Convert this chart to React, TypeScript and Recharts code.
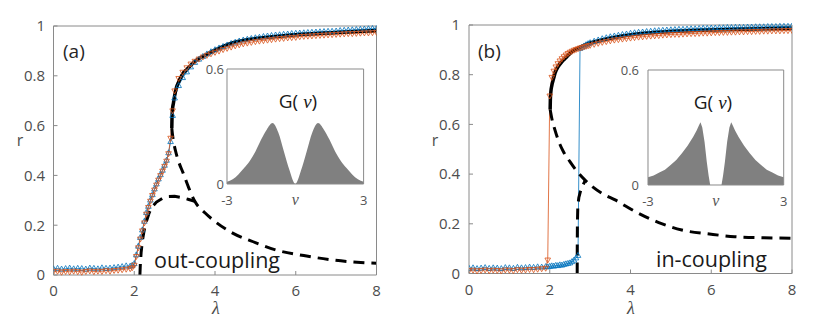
import React from 'react';
import { ComposedChart, Line, Area, XAxis, YAxis, CartesianGrid } from 'recharts';

// ---------- data ----------
const LAMBDA = [
  0, 0.1, 0.2, 0.3, 0.4, 0.5, 0.6, 0.7, 0.8, 0.9, 1, 1.1, 1.2, 1.3, 1.4, 1.5, 1.6, 1.7, 1.8, 1.9,
  1.95, 2, 2.05, 2.1, 2.15, 2.2, 2.25, 2.3, 2.35, 2.4, 2.45, 2.5, 2.55, 2.6, 2.65, 2.7, 2.75, 2.8, 2.85, 2.9, 2.95, 3,
  3.1, 3.2, 3.3, 3.4, 3.5, 3.6, 3.7, 3.8, 3.9, 4,
  4.1, 4.2, 4.3, 4.4, 4.5, 4.6, 4.7, 4.8, 4.9, 5,
  5.1, 5.2, 5.3, 5.4, 5.5, 5.6, 5.7, 5.8, 5.9, 6,
  6.1, 6.2, 6.3, 6.4, 6.5, 6.6, 6.7, 6.8, 6.9, 7,
  7.1, 7.2, 7.3, 7.4, 7.5, 7.6, 7.7, 7.8, 7.9, 8,
];

// panel (a) out-coupling: forward (blue) and backward (orange) sweeps
const R_FWD_A = [
  0.024, 0.026, 0.023, 0.025, 0.027, 0.024, 0.026, 0.025, 0.023, 0.027, 0.026, 0.024, 0.028, 0.026, 0.027, 0.029, 0.031, 0.033, 0.036, 0.035,
  0.038, 0.045, 0.08, 0.115, 0.15, 0.18, 0.215, 0.25, 0.275, 0.3, 0.322, 0.345, 0.365, 0.385, 0.402, 0.42, 0.44, 0.46, 0.49, 0.535, 0.64, 0.71,
  0.76, 0.792, 0.815, 0.835, 0.853, 0.866, 0.877, 0.887, 0.896, 0.904,
  0.911, 0.917, 0.923, 0.929, 0.934, 0.939, 0.943, 0.946, 0.949, 0.952,
  0.954, 0.957, 0.959, 0.961, 0.963, 0.964, 0.966, 0.967, 0.969, 0.97,
  0.971, 0.972, 0.973, 0.974, 0.975, 0.976, 0.977, 0.978, 0.978, 0.979,
  0.981, 0.982, 0.983, 0.984, 0.985, 0.986, 0.987, 0.988, 0.989, 0.99,
];
const R_BWD_A = [
  0.014, 0.016, 0.012, 0.015, 0.013, 0.016, 0.014, 0.012, 0.015, 0.017, 0.014, 0.016, 0.015, 0.018, 0.016, 0.019, 0.02, 0.022, 0.024, 0.026,
  0.03, 0.04, 0.075, 0.11, 0.145, 0.178, 0.21, 0.245, 0.272, 0.297, 0.32, 0.342, 0.362, 0.382, 0.4, 0.418, 0.437, 0.458, 0.488, 0.55, 0.66, 0.74,
  0.79, 0.815, 0.833, 0.848, 0.859, 0.868, 0.876, 0.883, 0.889, 0.895,
  0.9, 0.906, 0.911, 0.916, 0.921, 0.925, 0.929, 0.932, 0.935, 0.938,
  0.94, 0.942, 0.944, 0.946, 0.948, 0.95, 0.951, 0.953, 0.954, 0.955,
  0.958, 0.959, 0.96, 0.961, 0.962, 0.963, 0.964, 0.965, 0.966, 0.967,
  0.968, 0.969, 0.97, 0.97, 0.971, 0.972, 0.973, 0.973, 0.974, 0.975,
];

// panel (b) in-coupling
const R_FWD_B = [
  0.02, 0.022, 0.019, 0.021, 0.023, 0.02, 0.022, 0.021, 0.019, 0.023, 0.022, 0.02, 0.024, 0.022, 0.023, 0.025, 0.024, 0.026, 0.025, 0.027,
  0.026, 0.028, 0.03, 0.029, 0.032, 0.031, 0.034, 0.033, 0.036, 0.038, 0.04, 0.042, 0.047, 0.053, 0.062, 0.072, 0.905, 0.91, 0.915, 0.92, 0.924, 0.928,
  0.934, 0.939, 0.944, 0.948, 0.952, 0.955, 0.958, 0.961, 0.963, 0.966,
  0.968, 0.97, 0.971, 0.973, 0.974, 0.976, 0.977, 0.978, 0.979, 0.98,
  0.981, 0.982, 0.982, 0.983, 0.984, 0.984, 0.985, 0.986, 0.986, 0.987,
  0.987, 0.988, 0.988, 0.989, 0.989, 0.99, 0.99, 0.99, 0.991, 0.991,
  0.992, 0.992, 0.992, 0.993, 0.993, 0.993, 0.994, 0.994, 0.994, 0.995,
];
const R_BWD_B = [
  0.012, 0.014, 0.011, 0.013, 0.015, 0.012, 0.014, 0.013, 0.011, 0.015, 0.014, 0.012, 0.016, 0.014, 0.015, 0.017, 0.016, 0.018, 0.02, 0.022,
  0.055, 0.715, 0.79, 0.815, 0.832, 0.845, 0.856, 0.865, 0.873, 0.88, 0.886, 0.891, 0.895, 0.899, 0.902, 0.905, 0.908, 0.91, 0.913, 0.915, 0.917, 0.919,
  0.923, 0.927, 0.931, 0.934, 0.937, 0.94, 0.942, 0.944, 0.946, 0.948,
  0.95, 0.952, 0.953, 0.955, 0.956, 0.957, 0.958, 0.96, 0.961, 0.962,
  0.963, 0.963, 0.964, 0.965, 0.966, 0.966, 0.967, 0.968, 0.968, 0.969,
  0.97, 0.97, 0.971, 0.971, 0.972, 0.972, 0.973, 0.973, 0.974, 0.974,
  0.975, 0.975, 0.976, 0.976, 0.977, 0.977, 0.977, 0.978, 0.978, 0.979,
];

// theory curves, panel (a)
const LAM_STABLE_A = [2.93, 2.935, 2.95, 2.97, 3, 3.05, 3.1, 3.21, 3.3, 3.54, 3.75, 3.96, 4.53, 5, 5.5, 6, 7, 8];
const R_STABLE_A = [0.59, 0.63, 0.67, 0.69, 0.72, 0.756, 0.775, 0.81, 0.825, 0.863, 0.882, 0.9, 0.937, 0.95, 0.958, 0.965, 0.974, 0.982];
const LAM_UNSTABLE_A = [2.93, 2.95, 2.98, 3.02, 3.1, 3.21, 3.35, 3.5, 3.75, 3.96, 4.45, 5, 5.52, 6.2, 6.93, 8];
const R_UNSTABLE_A = [0.59, 0.56, 0.53, 0.5, 0.455, 0.41, 0.35, 0.296, 0.25, 0.22, 0.167, 0.13, 0.1, 0.078, 0.06, 0.047];
const LAM_LOWER_A = [2.14, 2.15, 2.17, 2.2, 2.24, 2.3, 2.37, 2.45, 2.55, 2.7, 2.85, 3, 3.2, 3.35, 3.5];
const R_LOWER_A = [0, 0.04, 0.09, 0.135, 0.175, 0.215, 0.25, 0.275, 0.293, 0.308, 0.315, 0.316, 0.31, 0.303, 0.296];

// theory curves, panel (b)
const LAM_STABLE_B = [2.01, 2.015, 2.03, 2.05, 2.1, 2.13, 2.2, 2.3, 2.4, 2.55, 2.75, 2.96, 3.3, 3.7, 4.36, 5, 6, 7, 8];
const R_STABLE_B = [0.66, 0.7, 0.735, 0.755, 0.787, 0.806, 0.83, 0.852, 0.868, 0.893, 0.91, 0.926, 0.94, 0.953, 0.967, 0.974, 0.98, 0.984, 0.987];
const LAM_UNSTABLE_B = [2.01, 2.05, 2.13, 2.25, 2.34, 2.5, 2.68, 2.88, 3.05, 3.3, 3.62, 4.12, 4.7, 5.27, 6, 6.58, 7.3, 8];
const R_UNSTABLE_B = [0.66, 0.625, 0.577, 0.52, 0.49, 0.45, 0.41, 0.375, 0.35, 0.322, 0.296, 0.249, 0.205, 0.175, 0.158, 0.148, 0.144, 0.142];
const LAM_LOWER_B = [2.68, 2.681, 2.685, 2.695, 2.72, 2.76, 2.82, 2.88];
const R_LOWER_B = [0, 0.1, 0.2, 0.27, 0.305, 0.33, 0.355, 0.375];

// insets: frequency distributions G(nu)
const NU_A = [-3, -2.75, -2.5, -2.25, -2, -1.75, -1.5, -1.25, -1, -0.75, -0.5, -0.25, 0, 0.25, 0.5, 0.75, 1, 1.25, 1.5, 1.75, 2, 2.25, 2.5, 2.75, 3];
const G_A = [0.012, 0.025, 0.05, 0.083, 0.12, 0.17, 0.232, 0.285, 0.318, 0.27, 0.17, 0.07, 0, 0.07, 0.17, 0.27, 0.318, 0.285, 0.232, 0.17, 0.12, 0.083, 0.05, 0.025, 0.012];
const NU_B = [-3, -2.75, -2.5, -2.25, -2, -1.75, -1.5, -1.25, -1, -0.85, -0.75, -0.68, -0.6, -0.5, -0.4, -0.32, -0.25, 0, 0.25, 0.32, 0.4, 0.5, 0.6, 0.68, 0.75, 0.85, 1, 1.25, 1.5, 1.75, 2, 2.25, 2.5, 2.75, 3];
const G_B = [0.04, 0.05, 0.065, 0.08, 0.104, 0.13, 0.165, 0.205, 0.252, 0.285, 0.31, 0.327, 0.3, 0.226, 0.12, 0.05, 0, 0, 0, 0.05, 0.12, 0.226, 0.3, 0.327, 0.31, 0.285, 0.252, 0.205, 0.165, 0.13, 0.104, 0.08, 0.065, 0.05, 0.04];

const X_TICKS = [0, 2, 4, 6, 8];
const Y_TICKS = [0, 0.2, 0.4, 0.6, 0.8, 1];

// ---------- styles ----------
const BLUE = '#0072BD';
const ORANGE = '#D95319';
const AXIS = '#8a8a8a';
const TICK_TXT = '#4d4d4d';
const FONT = '"Open Sans", "DejaVu Sans", sans-serif';
const SERIF = '"Liberation Serif", "DejaVu Serif", serif';
const TICK_LEN = 4;

const zip = (xs: number[], ys: number[]) => xs.map((x, i) => ({ x, y: ys[i] }));
const zipNu = (xs: number[], ys: number[]) => xs.map((nu, i) => ({ nu, g: ys[i] }));

const upTri = (color: string) => (p: any) => {
  const { cx, cy, index } = p;
  if (cx == null || cy == null) return <g key={`u${index}`} />;
  return (
    <path key={`u${index}`} d={`M${cx},${cy - 3.2}L${cx + 2.8},${cy + 1.8}L${cx - 2.8},${cy + 1.8}Z`}
      fill="none" stroke={color} strokeWidth={0.8} />
  );
};
const downTri = (color: string) => (p: any) => {
  const { cx, cy, index } = p;
  if (cx == null || cy == null) return <g key={`d${index}`} />;
  return (
    <path key={`d${index}`} d={`M${cx},${cy + 3.2}L${cx + 2.8},${cy - 1.8}L${cx - 2.8},${cy - 1.8}Z`}
      fill="none" stroke={color} strokeWidth={0.8} />
  );
};

// inward (MATLAB-style) tick marks, with optional labels
const bottomTick = (p: any) => {
  const { x, y, payload } = p;
  return (
    <g>
      <line x1={x} y1={y} x2={x} y2={y - TICK_LEN} stroke={AXIS} strokeWidth={1} />
      <text x={x} y={y + 21} textAnchor="middle" fontSize={15} fontFamily={FONT} fill={TICK_TXT}>{payload.value}</text>
    </g>
  );
};
const topTick = (p: any) => {
  const { x, y } = p;
  return <line x1={x} y1={y} x2={x} y2={y + TICK_LEN} stroke={AXIS} strokeWidth={1} />;
};
const leftTick = (gap: number) => (p: any) => {
  const { x, y, payload } = p;
  return (
    <g>
      <line x1={x} y1={y} x2={x + TICK_LEN} y2={y} stroke={AXIS} strokeWidth={1} />
      <text x={x - gap} y={y + 5.3} textAnchor="end" fontSize={15} fontFamily={FONT} fill={TICK_TXT}>{payload.value}</text>
    </g>
  );
};
const rightTick = (p: any) => {
  const { x, y } = p;
  return <line x1={x} y1={y} x2={x - TICK_LEN} y2={y} stroke={AXIS} strokeWidth={1} />;
};

type PanelProps = {
  left: number;
  margin: { top: number; right: number; bottom: number; left: number };
  fwd: number[];
  bwd: number[];
  lamStable: number[];
  rStable: number[];
  lamUnstable: number[];
  rUnstable: number[];
  lamLower: number[];
  rLower: number[];
  tag: string;
  note: string;
  noteX: number;
  noteY: number;
  yGap: number;
};

function Panel(p: PanelProps) {
  return (
    <div style={{ position: 'absolute', left: p.left, top: 0 }}>
      <ComposedChart width={415} height={317} margin={p.margin}>
        <XAxis dataKey="x" type="number" domain={[0, 8]} ticks={X_TICKS} allowDataOverflow height={30}
          tickSize={0} tickMargin={0} tickLine={false} stroke={AXIS} tick={bottomTick} interval={0} />
        <XAxis xAxisId="t" orientation="top" type="number" domain={[0, 8]} ticks={X_TICKS} height={10}
          tickSize={0} tickMargin={0} tickLine={false} stroke={AXIS} tick={topTick} interval={0} />
        <YAxis type="number" domain={[0, 1]} ticks={Y_TICKS} width={40} tickSize={0} tickMargin={0} tickLine={false}
          stroke={AXIS} tick={leftTick(p.yGap)} interval={0} />
        <YAxis yAxisId="r" orientation="right" type="number" domain={[0, 1]} ticks={Y_TICKS} width={10}
          tickSize={0} tickMargin={0} tickLine={false} stroke={AXIS} tick={rightTick} interval={0} />

        <Line data={zip(LAMBDA, p.fwd)} dataKey="y" type="linear" stroke={BLUE} strokeWidth={0.8}
          dot={upTri(BLUE)} activeDot={false} isAnimationActive={false} />
        <Line data={zip(LAMBDA, p.bwd)} dataKey="y" type="linear" stroke={ORANGE} strokeWidth={0.8}
          dot={downTri(ORANGE)} activeDot={false} isAnimationActive={false} />
        <Line data={zip(p.lamStable, p.rStable)} dataKey="y" type="monotone" stroke="#000" strokeWidth={3.5}
          dot={false} activeDot={false} isAnimationActive={false} />
        <Line data={zip(p.lamUnstable, p.rUnstable)} dataKey="y" type="monotone" stroke="#000" strokeWidth={3}
          strokeDasharray="11 7" dot={false} activeDot={false} isAnimationActive={false} />
        <Line data={zip(p.lamLower, p.rLower)} dataKey="y" type="linear" stroke="#000" strokeWidth={3}
          strokeDasharray="11 7" dot={false} activeDot={false} isAnimationActive={false} />

        <text x={63} y={58} fontSize={19} fontFamily={FONT} fill="#262626">{p.tag}</text>
        <text x={p.noteX} y={p.noteY} fontSize={21.5} fontFamily={FONT} fill="#1a1a1a">{p.note}</text>
        <text x={20} y={146} fontSize={16} fontFamily={FONT} fill={TICK_TXT} textAnchor="middle">r</text>
        <text x={216} y={314} fontSize={18} fontFamily={SERIF} fontStyle="italic" fill={TICK_TXT} textAnchor="middle">λ</text>
      </ComposedChart>
    </div>
  );
}

type InsetProps = {
  left: number;
  top: number;
  width: number;
  nu: number[];
  g: number[];
  curve: 'monotone' | 'linear';
  yTickMargin: number;
  titleX: number;
};

function Inset(p: InsetProps) {
  const tickStyle = { fill: '#555', fontSize: 13, fontFamily: FONT };
  const plotW = p.width - 50;
  return (
    <div style={{ position: 'absolute', left: p.left, top: p.top }}>
      <ComposedChart width={p.width} height={155} margin={{ top: 0, right: 0, bottom: 0, left: 0 }}
        data={zipNu(p.nu, p.g)}>
        <CartesianGrid fill="#ffffff" fillOpacity={1} horizontal={false} vertical={false} stroke="none" />
        <XAxis dataKey="nu" type="number" domain={[-3, 3]} ticks={[-3, 3]} height={30} tickLine={false}
          tickSize={0} tickMargin={12} stroke={AXIS} tick={tickStyle} interval={0} />
        <XAxis xAxisId="t" orientation="top" type="number" domain={[-3, 3]} height={10} tick={false}
          tickLine={false} stroke={AXIS} />
        <YAxis type="number" domain={[0, 0.6]} ticks={[0, 0.6]} width={40} tickLine={false} tickSize={0}
          tickMargin={p.yTickMargin} stroke={AXIS} tick={tickStyle} interval={0} />
        <YAxis yAxisId="r" orientation="right" type="number" domain={[0, 0.6]} width={10} tick={false}
          tickLine={false} stroke={AXIS} />
        <Area dataKey="g" type={p.curve} fill="#808080" fillOpacity={1} stroke="none" isAnimationActive={false} />
        <text x={p.titleX} y={49} fontSize={19} fontFamily={FONT} fill="#1a1a1a" textAnchor="middle">
          {'G( '}<tspan fontFamily={SERIF} fontStyle="italic">ν</tspan>{')'}
        </text>
        <text x={40 + plotW / 2} y={146} fontSize={16} fontFamily={SERIF} fontStyle="italic" fill="#555" textAnchor="middle">ν</text>
      </ComposedChart>
    </div>
  );
}

export default function App() {
  return (
    <div style={{ position: 'absolute', left: 0, top: 0, width: 830, height: 317, background: '#fff', overflow: 'hidden' }}>
      <Panel left={0} margin={{ top: 16, right: 28.5, bottom: 12, left: 13.5 }}
        fwd={R_FWD_A} bwd={R_BWD_A}
        lamStable={LAM_STABLE_A} rStable={R_STABLE_A}
        lamUnstable={LAM_UNSTABLE_A} rUnstable={R_UNSTABLE_A}
        lamLower={LAM_LOWER_A} rLower={R_LOWER_A}
        tag="(a)" note="out-coupling" noteX={154} noteY={268} yGap={8.5} />
      <Panel left={415} margin={{ top: 15, right: 28, bottom: 13.5, left: 14 }}
        fwd={R_FWD_B} bwd={R_BWD_B}
        lamStable={LAM_STABLE_B} rStable={R_STABLE_B}
        lamUnstable={LAM_UNSTABLE_B} rUnstable={R_UNSTABLE_B}
        lamLower={LAM_LOWER_B} rLower={R_LOWER_B}
        tag="(b)" note="in-coupling" noteX={241} noteY={267} yGap={9} />
      <Inset left={186.7} top={59.3} width={186.6} nu={NU_A} g={G_A} curve="monotone" yTickMargin={3} titleX={111} />
      <Inset left={608.3} top={60} width={185.7} nu={NU_B} g={G_B} curve="linear" yTickMargin={9} titleX={105} />
    </div>
  );
}
